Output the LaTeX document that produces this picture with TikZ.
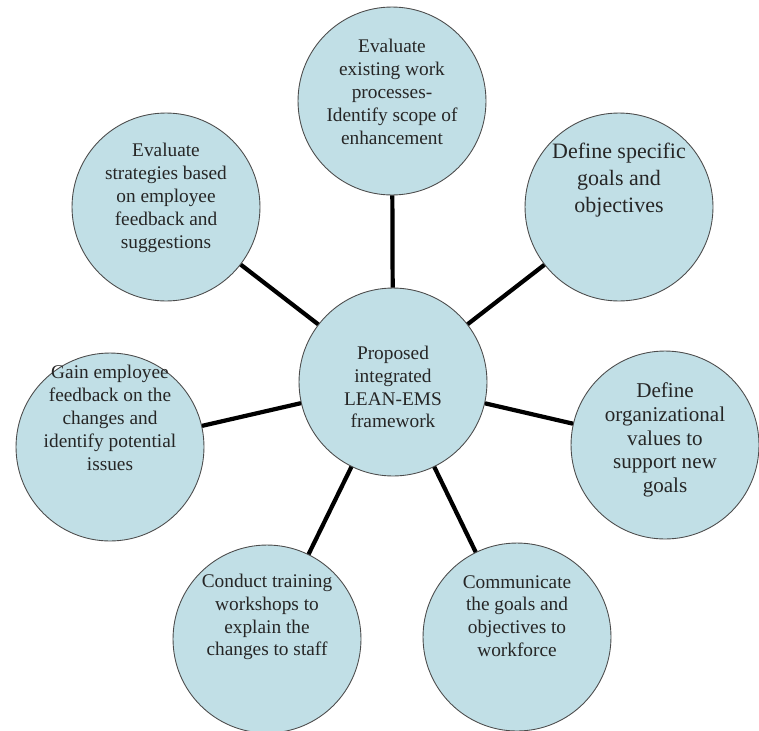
\documentclass[tikz,border=0pt]{standalone}
\usepackage{fontspec}
\setmainfont{Liberation Serif}
\definecolor{bubble}{RGB}{193,223,230}
\begin{document}
\begin{tikzpicture}[
        x=0.02cm, y=-0.02cm,
        every node/.style={inner sep=0pt},
        hub/.style={circle, draw=black!70, line width=0.5pt, fill=bubble, minimum size=3.76cm},
        note/.style={align=center, font=\fontsize{11}{13}\selectfont, text=black!85},
        bignote/.style={align=center, font=\fontsize{12.5}{15.4}\selectfont, text=black!85},
        edge/.style={draw, line width=2.4pt}
    ]
        \useasboundingbox (0,0) rectangle (759,730);

        \node[hub] (C) at (393,382) {};
        \node[hub] (T) at (392,101) {};
        \node[hub] (TR) at (619,207) {};
        \node[hub] (R) at (665,445) {};
        \node[hub] (BR) at (517,637) {};
        \node[hub] (BL) at (267,639) {};
        \node[hub] (L) at (110,447) {};
        \node[hub] (TL) at (166,207) {};

        \node[note] (Ct) at (393,387) {Proposed\\integrated\\LEAN-EMS\\framework};
        \node[note] (Tt) at (392,92) {Evaluate\\existing work\\processes-\\Identify scope of\\enhancement};
        \node[bignote] (TRt) at (619,180) {Define specific\\goals and\\objectives};
        \node[bignote, font=\fontsize{12}{13.5}\selectfont] (Rt) at (665,440) {Define\\organizational\\values to\\support new\\goals};
        \node[note] (BRt) at (517,616) {Communicate\\the goals and\\objectives to\\workforce};
        \node[note] (BLt) at (267,617) {Conduct training\\workshops to\\explain the\\changes to staff};
        \node[note] (Lt) at (110,418) {Gain employee\\feedback on the\\changes and\\identify potential\\issues};
        \node[note] (TLt) at (166,198) {Evaluate\\strategies based\\on employee\\feedback and\\suggestions};

        \path[edge] (C) -- (T);
        \path[edge] (C) -- (TR);
        \path[edge] (C) -- (R);
        \path[edge] (C) -- (BR);
        \path[edge] (C) -- (BL);
        \path[edge] (C) -- (L);
        \path[edge] (C) -- (TL);
    \end{tikzpicture}
\end{document}
